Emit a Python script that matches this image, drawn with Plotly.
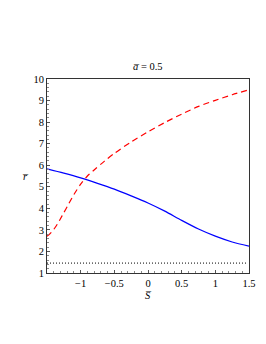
import plotly.graph_objects as go

S_blue = [-1.5, -1.25, -1.0, -0.75, -0.5, -0.25, 0.0, 0.25, 0.5, 0.75, 1.0, 1.25, 1.5]
r_blue = [5.83, 5.63, 5.41, 5.16, 4.89, 4.58, 4.25, 3.87, 3.44, 3.04, 2.71, 2.44, 2.25]

S_red = [-1.5, -1.45, -1.4, -1.35, -1.3, -1.25, -1.2, -1.1, -1.0, -0.9, -0.8, -0.65, -0.5, -0.25, 0.0, 0.25, 0.5, 0.75, 1.0, 1.25, 1.5]
r_red = [2.7, 2.84, 3.02, 3.25, 3.52, 3.8, 4.08, 4.64, 5.12, 5.5, 5.78, 6.18, 6.55, 7.08, 7.55, 7.98, 8.37, 8.73, 9.01, 9.27, 9.5]

S_dot = [-1.5, 1.48]
r_dot = [1.46, 1.46]

x_ticks = [-1, -0.5, 0, 0.5, 1, 1.5]
x_labels = ["\u22121", "\u22120.5", "0", "0.5", "1", "1.5"]
y_ticks = [1, 2, 3, 4, 5, 6, 7, 8, 9, 10]

font = dict(family="Times New Roman, Liberation Serif, serif", size=10.5, color="black")

fig = go.Figure()
fig.add_trace(go.Scatter(x=S_blue, y=r_blue, mode="lines",
                         line=dict(color="#0000ff", width=1.2, shape="spline", smoothing=0.8)))
fig.add_trace(go.Scatter(x=S_red, y=r_red, mode="lines",
                         line=dict(color="#ff0000", width=1.2, dash="6px,4px", shape="spline", smoothing=0.8)))
fig.add_trace(go.Scatter(x=S_dot, y=r_dot, mode="lines", line=dict(color="black", width=1, dash="1px,2px")))

axis_common = dict(showgrid=False, zeroline=False, showline=True, linecolor="#333333", linewidth=1,
                   mirror=True, ticks="inside", ticklen=3, tickcolor="#555555", tickfont=font)

fig.update_xaxes(range=[-1.5, 1.5], tickvals=x_ticks, ticktext=x_labels,
                 minor=dict(ticks="inside", ticklen=2, dtick=0.1, tickcolor="#888888"), **axis_common)
fig.update_yaxes(range=[1, 10], tickvals=y_ticks,
                 minor=dict(ticks="inside", ticklen=2, dtick=0.2, tickcolor="#888888"), **axis_common)

fig.update_layout(
    width=266, height=344,
    margin=dict(l=39, r=25, t=71, b=79),
    plot_bgcolor="white", paper_bgcolor="white",
    showlegend=False,
    font=font,
    annotations=[
        dict(text="<i>a\u0305</i> = 0.5", xref="paper", yref="paper", x=0.5, y=1.0, yshift=13,
             showarrow=False, font=font, xanchor="center", yanchor="middle"),
        dict(text="<i>r\u0305</i>", xref="paper", yref="paper", x=0, y=0.5, xshift=-22,
             showarrow=False, font=font, xanchor="center", yanchor="middle"),
        dict(text="<i>S\u0305</i>", xref="x", yref="paper", x=0, y=0, yshift=-22,
             showarrow=False, font=font, xanchor="center", yanchor="middle"),
    ],
)

fig.write_html("out.html")
